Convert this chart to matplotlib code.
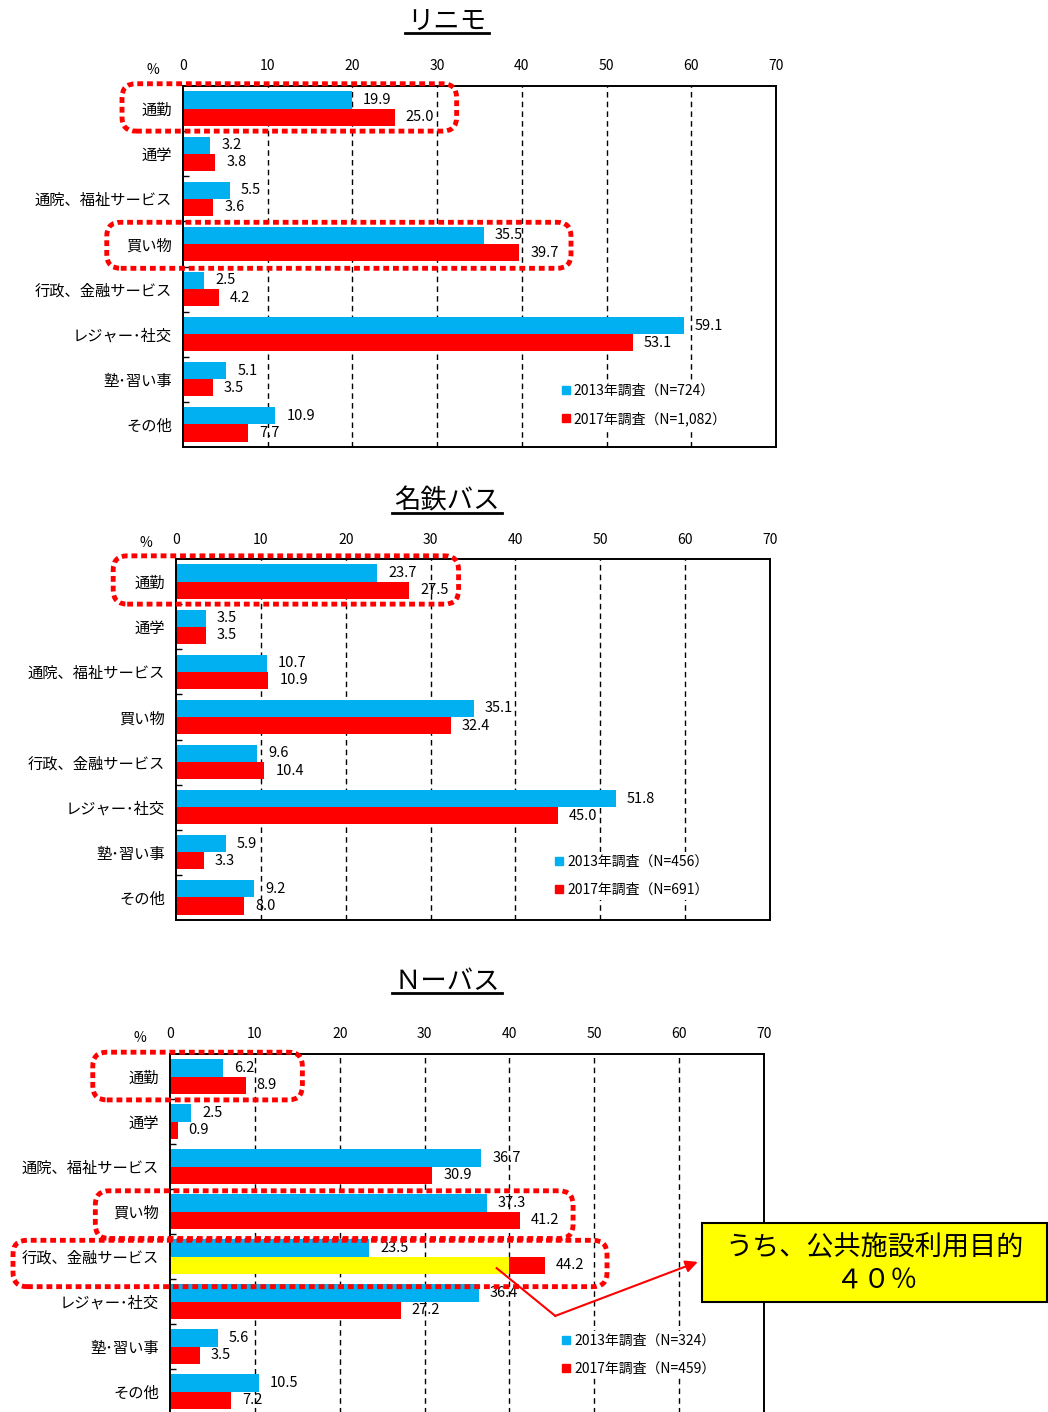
import matplotlib
matplotlib.use("agg")
import matplotlib.pyplot as plt
import numpy as np
from matplotlib.patches import FancyBboxPatch, Rectangle
from matplotlib.lines import Line2D
from matplotlib.transforms import IdentityTransform, blended_transform_factory

plt.rcParams['font.family'] = ['Noto Sans CJK JP', 'DejaVu Sans']

W, H = 1048, 1412
BLUE = '#00B0F0'
RED = '#FF0000'
YELLOW = '#FFFF00'

categories = ["通勤", "通学", "通院、福祉サービス", "買い物", "行政、金融サービス",
              "レジャー･社交", "塾･習い事", "その他"]

titles = ["リニモ", "名鉄バス", "Ｎーバス"]

linimo_2013 = [19.9, 3.2, 5.5, 35.5, 2.5, 59.1, 5.1, 10.9]
linimo_2017 = [25.0, 3.8, 3.6, 39.7, 4.2, 53.1, 3.5, 7.7]
meitetsu_2013 = [23.7, 3.5, 10.7, 35.1, 9.6, 51.8, 5.9, 9.2]
meitetsu_2017 = [27.5, 3.5, 10.9, 32.4, 10.4, 45.0, 3.3, 8.0]
nbus_2013 = [6.2, 2.5, 36.7, 37.3, 23.5, 36.4, 5.6, 10.5]
nbus_2017 = [8.9, 0.9, 30.9, 41.2, 44.2, 27.2, 3.5, 7.2]
nbus_public_facility = 40  # 行政、金融サービス のうち公共施設利用目的

legend_2013 = ["2013年調査（N=724）", "2013年調査（N=456）", "2013年調査（N=324）"]
legend_2017 = ["2017年調査（N=1,082）", "2017年調査（N=691）", "2017年調査（N=459）"]

# layout in pixels: left, top, right, bottom of each plot area
frames = [(183, 86, 776, 447), (176, 559, 770, 920), (170, 1054, 764, 1414)]
title_y = [21, 501, 981]
legend_anchor = [(0.622, 0.203), (0.622, 0.207), (0.644, 0.25)]
# highlight boxes: (x0, x1, y0, y1) in data / category units
boxes = [
    [(-7.2, 32.3, -0.55, 0.50), (-9.0, 45.8, 2.52, 3.54)],
    [(-7.4, 33.3, -0.57, 0.50)],
    [(-9.1, 15.6, -0.54, 0.52), (-8.8, 47.5, 2.54, 3.60), (-18.5, 51.5, 3.64, 4.67)],
]


def px(x, y):
    return x / W, 1 - y / H


fig = plt.figure(figsize=(W / 100, H / 100), dpi=100)

series = [(linimo_2013, linimo_2017), (meitetsu_2013, meitetsu_2017), (nbus_2013, nbus_2017)]
h = 0.38
y = np.arange(len(categories))
axes = []
for k, (v13, v17) in enumerate(series):
    l, t, r, b = frames[k]
    ax = fig.add_axes([l / W, 1 - b / H, (r - l) / W, (b - t) / H])
    axes.append(ax)
    ax.barh(y - h / 2, v13, height=h, color=BLUE, zorder=2)
    ax.barh(y + h / 2, v17, height=h, color=RED, zorder=2)
    if k == 2:
        ax.barh(4 + h / 2, nbus_public_facility, height=h, color=YELLOW, zorder=2.5)
    for i in range(len(categories)):
        ax.text(v13[i] + 1.3, i - h / 2, f"{v13[i]:.1f}", va='center', ha='left', fontsize=10.5, zorder=3)
        ax.text(v17[i] + 1.3, i + h / 2, f"{v17[i]:.1f}", va='center', ha='left', fontsize=10.5, zorder=3)
    ax.set_xlim(0, 70)
    ax.set_ylim(7.5, -0.5)
    for gx in range(10, 70, 10):
        ax.axvline(gx, color='black', lw=1, ls=(0, (4, 3)), zorder=1)
    ax.xaxis.tick_top()
    ax.set_xticks(range(0, 71, 10))
    ax.tick_params(axis='x', length=0, pad=9, labelsize=10)
    ax.set_yticks(y, categories, fontsize=11)
    ax.tick_params(axis='y', length=0, pad=8)
    ax.set_yticks(np.arange(0.5, 7.5, 1), minor=True)
    ax.tick_params(axis='y', which='minor', direction='in', length=4, width=1)
    for s in ax.spines.values():
        s.set_linewidth(1.4)
    trans = blended_transform_factory(ax.transData, ax.transAxes)
    ax.text(-3.5, 1 + 16 / (b - t), '%', transform=trans, ha='center', va='center', fontsize=10)
    handles = [Line2D([], [], marker='s', ls='', color=BLUE, markersize=5.5),
               Line2D([], [], marker='s', ls='', color=RED, markersize=5.5)]
    leg = ax.legend(handles, [legend_2013[k], legend_2017[k]], loc='upper left',
                    bbox_to_anchor=legend_anchor[k], fontsize=10, frameon=True,
                    facecolor='white', edgecolor='none', framealpha=1, fancybox=False,
                    handlelength=0.6, handletextpad=0.25, labelspacing=1.0, borderpad=0.2)
    leg.set_zorder(4)

    # dotted rounded highlight boxes
    for (x0, x1, y0, y1) in boxes[k]:
        (ax0, ay0) = ax.transData.transform((x0, y1))
        (ax1, ay1) = ax.transData.transform((x1, y0))
        fig.add_artist(FancyBboxPatch((ax0, ay0), ax1 - ax0, ay1 - ay0,
                                      boxstyle="round,pad=0,rounding_size=14",
                                      transform=IdentityTransform(), fill=False,
                                      ec=RED, lw=3.5, ls=(0, (1.2, 0.8)), zorder=5))

# titles
title_texts = []
for k, ttl in enumerate(titles):
    tx, ty = px(447, title_y[k])
    title_texts.append(fig.text(tx, ty, ttl, ha='center', va='center', fontsize=19))

# callout for N-bus
ax3 = axes[2]
ax3.plot([38.5, 45.4], [4.26, 5.32], color=RED, lw=1.5, clip_on=False, zorder=6)
ax3.annotate('', xy=(62.2, 4.12), xytext=(45.4, 5.32),
             arrowprops=dict(arrowstyle='-|>', color=RED, lw=1.5, mutation_scale=18,
                             shrinkA=0, shrinkB=0),
             annotation_clip=False, zorder=6)
bx, by = px(702, 1302)
fig.add_artist(Rectangle((bx, by), 345 / W, 79 / H, transform=fig.transFigure,
                         fc=YELLOW, ec='black', lw=1.5, zorder=7))
fig.text(*px(875, 1248), "うち、公共施設利用目的", ha='center', va='center', fontsize=19.5, zorder=8)
fig.text(*px(877, 1281), "４０％", ha='center', va='center', fontsize=19.5, zorder=8)

# underline titles
fig.canvas.draw()
renderer = fig.canvas.get_renderer()
for t in title_texts:
    bb = t.get_window_extent(renderer)
    yline = bb.y0 + 2
    fig.add_artist(Line2D([bb.x0 - 2, bb.x1 + 2], [yline, yline], transform=IdentityTransform(),
                          color='black', lw=2))

fig.savefig('out.png', dpi=100)
